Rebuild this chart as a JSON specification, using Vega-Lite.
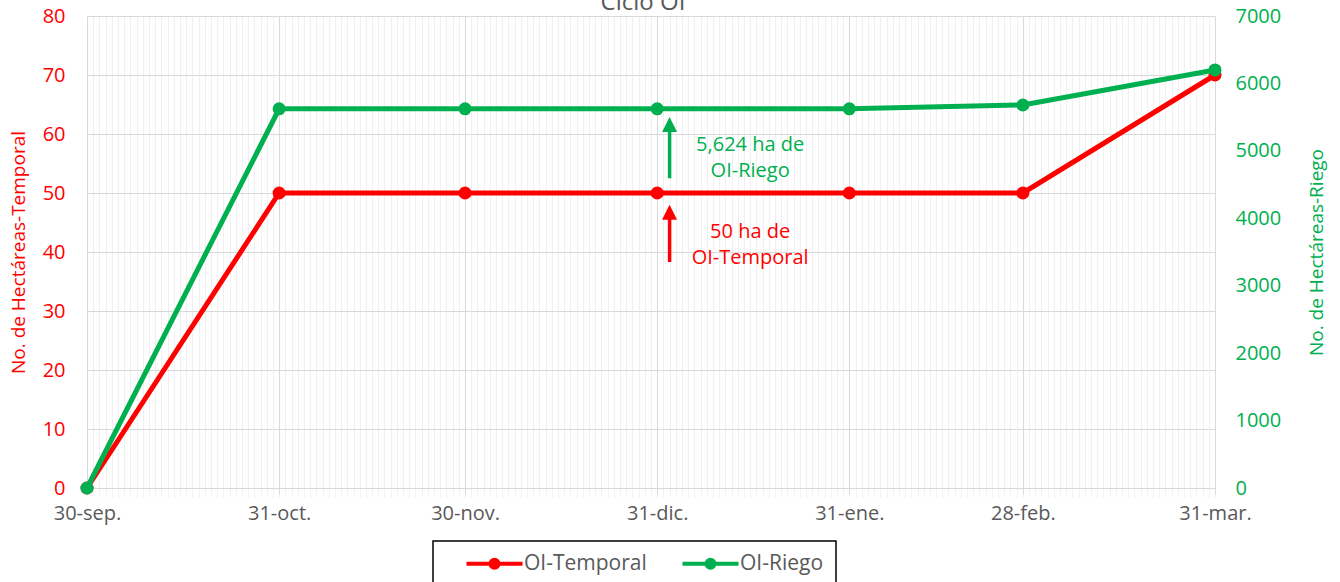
{
  "$schema": "https://vega.github.io/schema/vega-lite/v6.json",
  "width": 1128,
  "height": 472,
  "autosize": {"type": "none"},
  "padding": {"left": 87, "top": 16, "right": 125, "bottom": 94},
  "config": {"font": "Open Sans", "view": {"stroke": null}},
  "title": {"text": "Ciclo OI", "fontSize": 24, "color": "#595959", "fontWeight": "normal", "frame": "group", "anchor": "middle", "offset": -33, "dx": -8, "baseline": "bottom"},
  "datasets": {
    "series": [
      {"date": "2020-09-30T00:00", "serie": "OI-Temporal", "value": 0},
      {"date": "2020-10-31T00:00", "serie": "OI-Temporal", "value": 50},
      {"date": "2020-11-30T00:00", "serie": "OI-Temporal", "value": 50},
      {"date": "2020-12-31T00:00", "serie": "OI-Temporal", "value": 50},
      {"date": "2021-01-31T00:00", "serie": "OI-Temporal", "value": 50},
      {"date": "2021-02-28T00:00", "serie": "OI-Temporal", "value": 50},
      {"date": "2021-03-31T00:00", "serie": "OI-Temporal", "value": 70},
      {"date": "2020-09-30T00:00", "serie": "OI-Riego", "value": 0},
      {"date": "2020-10-31T00:00", "serie": "OI-Riego", "value": 5624},
      {"date": "2020-11-30T00:00", "serie": "OI-Riego", "value": 5624},
      {"date": "2020-12-31T00:00", "serie": "OI-Riego", "value": 5624},
      {"date": "2021-01-31T00:00", "serie": "OI-Riego", "value": 5624},
      {"date": "2021-02-28T00:00", "serie": "OI-Riego", "value": 5680},
      {"date": "2021-03-31T00:00", "serie": "OI-Riego", "value": 6200}
    ],
    "arrows": [
      {"date": "2021-01-02T00:00", "y": 52.5, "y2": 61.5, "tip": 62.9, "serie": "OI-Riego"},
      {"date": "2021-01-02T00:00", "y": 38.3, "y2": 46.6, "tip": 48.0, "serie": "OI-Temporal"}
    ],
    "notes": [
      {"date": "2021-01-15T00:00", "y": 58.1, "label": "5,624 ha de\nOI-Riego", "serie": "OI-Riego"},
      {"date": "2021-01-15T00:00", "y": 43.4, "label": "50 ha de\nOI-Temporal", "serie": "OI-Temporal"}
    ]
  },
  "layer": [
    {
      "encoding": {
        "x": {
          "field": "date", "type": "temporal",
          "scale": {"domain": [{"year": 2020, "month": 9, "date": 30}, {"year": 2021, "month": 3, "date": 31}], "nice": false},
          "axis": {"orient": "bottom", "title": null, "labels": false, "domain": false, "ticks": true, "tickColor": "#f2f2f2", "tickSize": 9, "grid": true, "gridColor": "#f0f0f0", "gridWidth": 1, "tickCount": {"interval": "day", "step": 1}}
        }
      },
      "layer": [
        {
          "data": {"name": "series"},
          "transform": [{"filter": "datum.serie === 'OI-Temporal'"}],
          "mark": {"type": "line", "strokeWidth": 5, "point": {"filled": true, "size": 170, "opacity": 1}},
          "encoding": {
            "y": {
              "field": "value", "type": "quantitative",
              "scale": {"domain": [0, 80], "nice": false},
              "axis": {"orient": "left", "title": "No. de Hectáreas-Temporal", "titleColor": "#FF0000", "titleFontSize": 19, "titleFontWeight": "normal", "titlePadding": 14, "labelColor": "#FF0000", "labelFontSize": 20, "labelPadding": 22, "values": [0, 10, 20, 30, 40, 50, 60, 70, 80], "format": "d", "grid": true, "gridColor": "#d9d9d9", "domain": false, "ticks": false}
            },
            "color": {
              "field": "serie", "type": "nominal",
              "scale": {"domain": ["OI-Temporal", "OI-Riego"], "range": ["#FF0000", "#00B050"]},
              "legend": {
                "orient": "none", "legendX": 346, "legendY": 525, "direction": "horizontal", "title": null,
                "strokeColor": "#000000", "fillColor": "#ffffff", "padding": 12,
                "symbolType": "M1.83,0H11.17M5.83,0A0.67,0.67,0,1,1,7.17,0A0.67,0.67,0,1,1,5.83,0",
                "symbolSize": 144, "symbolStrokeWidth": 4, "labelOffset": 58, "labelFontSize": 21, "labelColor": "#595959", "columnPadding": 14,
                "encode": {
                  "legend": {"update": {"strokeWidth": {"value": 1.5}}},
                  "symbols": {"update": {"fill": {"scale": "color", "field": "value"}, "stroke": {"scale": "color", "field": "value"}}}
                }
              }
            }
          }
        },
        {
          "data": {"name": "arrows"},
          "mark": {"type": "rule", "strokeWidth": 3.5},
          "encoding": {
            "y": {"field": "y", "type": "quantitative", "scale": {"domain": [0, 80], "nice": false}},
            "y2": {"field": "y2"},
            "color": {"field": "serie", "type": "nominal", "scale": {"domain": ["OI-Temporal", "OI-Riego"], "range": ["#FF0000", "#00B050"]}, "legend": null}
          }
        },
        {
          "data": {"name": "arrows"},
          "mark": {"type": "point", "shape": "M-1,2L0,0L1,2Z", "filled": true, "size": 225, "opacity": 1},
          "encoding": {
            "y": {"field": "tip", "type": "quantitative", "scale": {"domain": [0, 80], "nice": false}},
            "color": {"field": "serie", "type": "nominal", "scale": {"domain": ["OI-Temporal", "OI-Riego"], "range": ["#FF0000", "#00B050"]}, "legend": null}
          }
        },
        {
          "data": {"name": "notes"},
          "mark": {"type": "text", "fontSize": 20, "lineBreak": "\n", "lineHeight": 26, "align": "center", "baseline": "middle"},
          "encoding": {
            "y": {"field": "y", "type": "quantitative", "scale": {"domain": [0, 80], "nice": false}},
            "text": {"field": "label"},
            "color": {"field": "serie", "type": "nominal", "scale": {"domain": ["OI-Temporal", "OI-Riego"], "range": ["#FF0000", "#00B050"]}, "legend": null}
          }
        }
      ]
    },
    {
      "data": {"name": "series"},
      "transform": [{"filter": "datum.serie === 'OI-Riego'"}],
      "mark": {"type": "line", "strokeWidth": 5, "point": {"filled": true, "size": 170, "opacity": 1}},
      "encoding": {
        "x": {
          "field": "date", "type": "temporal",
          "scale": {"domain": [{"year": 2020, "month": 9, "date": 30}, {"year": 2021, "month": 3, "date": 31}], "nice": false},
          "axis": {
            "orient": "bottom", "title": null,
            "values": [{"year": 2020, "month": 9, "date": 30}, {"year": 2020, "month": 10, "date": 31}, {"year": 2020, "month": 11, "date": 30}, {"year": 2020, "month": 12, "date": 31}, {"year": 2021, "month": 1, "date": 31}, {"year": 2021, "month": 2, "date": 28}, {"year": 2021, "month": 3, "date": 31}],
            "labelExpr": "timeFormat(datum.value, '%d') + '-' + ['ene','feb','mar','abr','may','jun','jul','ago','sep','oct','nov','dic'][month(datum.value)] + '.'",
            "labelColor": "#595959", "labelFontSize": 20, "labelPadding": 9, "labelFlush": false,
            "domain": true, "domainColor": "#d9d9d9", "ticks": true, "tickColor": "#d9d9d9", "tickSize": 6,
            "grid": true, "gridColor": "#d9d9d9"
          }
        },
        "y": {
          "field": "value", "type": "quantitative",
          "scale": {"domain": [0, 7000], "nice": false},
          "axis": {"orient": "right", "title": "No. de Hectáreas-Riego", "titleAngle": 270, "titleColor": "#00B050", "titleFontSize": 19, "titleFontWeight": "normal", "titlePadding": 46, "labelColor": "#00B050", "labelFontSize": 20, "labelPadding": 20, "values": [0, 1000, 2000, 3000, 4000, 5000, 6000, 7000], "format": "d", "grid": false, "domain": false, "ticks": false}
        },
        "color": {"field": "serie", "type": "nominal", "scale": {"domain": ["OI-Temporal", "OI-Riego"], "range": ["#FF0000", "#00B050"]}, "legend": null}
      }
    }
  ],
  "resolve": {"scale": {"y": "independent"}, "axis": {"x": "independent", "y": "independent"}}
}
